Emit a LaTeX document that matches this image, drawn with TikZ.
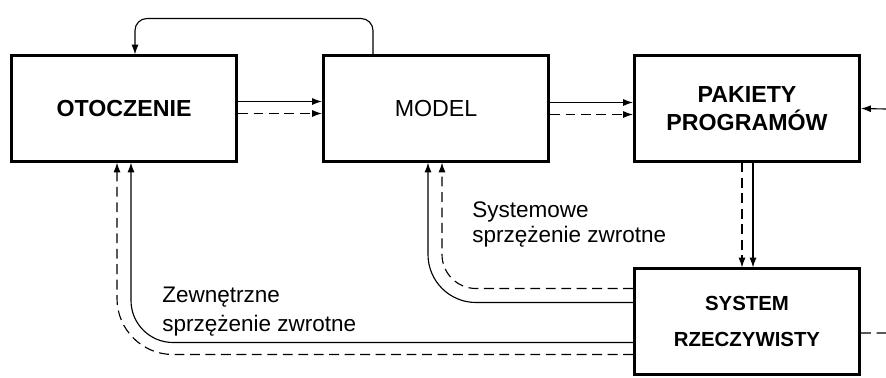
\documentclass[tikz,border=0pt]{standalone}
\usepackage{fontspec}
\setmainfont{Liberation Sans}
\usetikzlibrary{arrows.meta,calc}

\begin{document}
\begin{tikzpicture}[x=0.025cm,y=-0.025cm,
    block/.style={draw,line width=2pt,minimum width=5.63cm,minimum height=2.63cm,align=center,
      font=\fontsize{16.5}{20}\selectfont\bfseries},
    flow/.style={line width=0.8pt,-{Latex[length=7pt,width=5pt]}},
    info/.style={flow,dash pattern=on 7pt off 4pt},
    lbl/.style={anchor=north west,align=left,inner sep=0pt}]
  \useasboundingbox (0,0) rectangle (886,377);
  % Blocks
  \node[block] (otoczenie) at (124,108.5) {OTOCZENIE};
  \node[block,font=\fontsize{16.5}{20}\selectfont] (model) at (436,108.5) {MODEL};
  \node[block] (pakiety) at (747,108.5) {PAKIETY\\PROGRAMÓW};
  \node[block,font=\fontsize{14.5}{26}\selectfont\bfseries] (system) at (747,321.5) {SYSTEM\\RZECZYWISTY};
  % Forward flows
  \draw[flow] ($(otoczenie.east)+(0,-7)$) -- ($(model.west)+(0,-7)$);
  \draw[info] ($(otoczenie.east)+(0,5)$) -- ($(model.west)+(0,5)$);
  \draw[flow] ($(model.east)+(0,-6)$) -- ($(pakiety.west)+(0,-6)$);
  \draw[info] ($(model.east)+(0,6)$) -- ($(pakiety.west)+(0,6)$);
  \draw[info] ($(pakiety.south)+(-5,0)$) -- ($(system.north)+(-5,0)$);
  \draw[flow] ($(pakiety.south)+(6,0)$) -- ($(system.north)+(6,0)$);
  % Feedback loops
  \draw[flow,rounded corners=1.2cm] ($(system.west)+(0,-19)$) -| ($(model.south)+(-8,0)$);
  \draw[info,rounded corners=0.85cm] ($(system.west)+(0,-33)$) -| ($(model.south)+(6,0)$);
  \draw[info,rounded corners=1.4cm] ($(system.west)+(0,33)$) -| ($(otoczenie.south)+(-7,0)$);
  \draw[flow,rounded corners=1.05cm] ($(system.west)+(0,21)$) -| ($(otoczenie.south)+(7,0)$);
  \draw[flow,rounded corners=0.3cm] ($(model.north)+(-63,0)$) -- ++(0,-36) -| ($(otoczenie.north)+(11,0)$);
  % Outside
  \coordinate (wej) at (886,109);
  \coordinate (wyj) at (886,333);
  \draw[flow] (wej) -- (pakiety.east);
  \draw[info,-] ($(system.east)+(0,11.5)$) -- (wyj);
  % Labels
  \node[lbl,font=\fontsize{16}{17.5}\selectfont] (sysfb) at (472,202) {Systemowe\\sprzężenie zwrotne};
  \node[lbl,font=\fontsize{16}{20.5}\selectfont] (zewfb) at (162,287) {Zewnętrzne\\sprzężenie zwrotne};
\end{tikzpicture}
\end{document}
